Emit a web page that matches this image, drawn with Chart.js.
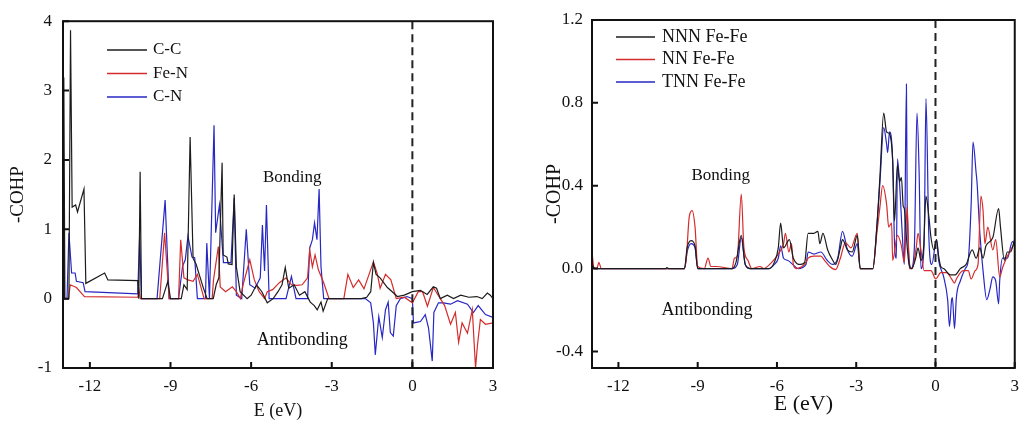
<!DOCTYPE html>
<html>
<head>
<meta charset="utf-8">
<script src="https://cdn.jsdelivr.net/npm/chart.js@4.4.0/dist/chart.umd.min.js"></script>
<style>
  html, body { margin: 0; padding: 0; background: #fff; }
  #wrap { position: relative; width: 1027px; height: 425px; }
  #leftChart { position: absolute; left: 0; top: 0; }
  #rightChart { position: absolute; left: 510px; top: 0; }
</style>
</head>
<body>
<div id="wrap">
  <canvas id="leftChart" width="510" height="425"></canvas>
  <canvas id="rightChart" width="517" height="425"></canvas>
</div>
<script>
// ******************************************************** DATA
var xTickVals   = [-12, -9, -6, -3, 0, 3];
var leftYTicks  = [-1, 0, 1, 2, 3, 4];
var rightYTicks = [-0.4, 0, 0.4, 0.8, 1.2];

var leftLabels  = ['C-C', 'Fe-N', 'C-N'];
var rightLabels = ['NNN Fe-Fe', 'NN Fe-Fe', 'TNN Fe-Fe'];
var lineColors  = ['#1c1c1c', '#d42c2c', '#2727c4'];

// left panel: C-C
var ccE = [-13.0,-12.97,-12.93,-12.78,-12.72,-12.66,-12.53,-12.46,-12.22,-12.15,-11.45,-11.33,-10.22,-10.18,-10.13,-10.08,
  -9.3,-9.1,-9.0,-8.6,-8.5,-8.38,-8.27,-8.16,-8.05,-7.79,-7.64,-7.41,-7.3,-7.2,-7.08,-7.04,-6.9,-6.85,-6.71,-6.63,-6.55,
  -6.41,-6.15,-6.0,-5.8,-5.6,-5.4,-5.18,-5.0,-4.85,-4.73,-4.6,-4.4,-4.2,-4.0,-3.8,-3.65,-3.54,-3.4,-3.32,-3.15,-2.98,
  -1.9,-1.7,-1.55,-1.45,-1.35,-1.2,-0.93,-0.75,-0.56,-0.3,0.0,0.3,0.55,0.78,0.9,1.04,1.3,1.53,1.8,2.1,2.4,2.6,2.79,2.9,3.0];
var ccY = [0,3.19,0,0,3.87,1.32,1.35,1.25,1.58,0.22,0.37,0.27,0.26,0,1.83,0,
  0,0.25,0,0,0.2,0.13,2.33,0.58,0.5,0.17,0,0,0.2,0.3,1.96,0.63,0.6,0.5,0.49,1.5,0.46,
  0.1,0,0.05,0.2,0.1,-0.06,0,0.1,0.2,0.45,0.15,0.2,0.05,0.1,-0.05,-0.1,-0.16,-0.05,-0.18,0,0,
  0,0.02,0.1,0.52,0.35,0.3,0.16,0.1,0.03,0.05,0.1,0.12,0.06,0.17,0.15,0,0.05,0,0.05,0.02,0.03,0,0.08,0.05,0];

// left panel: Fe-N
var fenE = [-13.0,-12.97,-12.8,-12.73,-12.5,-12.2,-10.22,-10.17,-10.12,-9.4,-9.22,-9.05,-8.7,-8.62,-8.5,-8.35,-8.16,-8.0,
  -7.75,-7.45,-7.4,-7.22,-7.15,-6.95,-6.7,-6.55,-6.4,-6.3,-6.05,-5.88,-5.7,-5.5,-5.4,-5.2,-4.95,-4.7,-4.5,-4.3,-4.1,-3.9,
  -3.82,-3.72,-3.62,-3.5,-3.3,-3.1,-2.55,-2.4,-2.2,-2.0,-1.8,-1.45,-1.3,-1.2,-1.0,-0.8,-0.6,-0.3,0.0,0.22,0.38,0.56,0.78,
  1.04,1.2,1.42,1.6,1.72,1.85,2.05,2.23,2.35,2.42,2.53,2.72,3.0];
var fenY = [0.65,0,0,0.2,0.16,0.03,0.02,0.12,0,0,0.95,0,0,0.85,0.3,0.27,0.25,0.35,
  0,0,0.27,0.75,0.17,0.1,0.17,0.1,0,0.2,0.56,0.27,0.1,0,0.1,0.13,0.23,0.3,0.2,0.19,0.2,0.3,
  0.7,0.46,0.63,0.42,0.23,0,0,0.35,0.16,0.27,0.14,0.53,0.35,0.15,0.35,0.27,0,0.02,-0.06,0.1,0.1,-0.11,0.16,
  0,-0.1,-0.37,-0.2,-0.63,-0.35,-0.5,-0.16,-1.0,-0.68,-0.3,-0.37,-0.35];

// left panel: C-N
var cnE = [-13.0,-12.97,-12.85,-12.78,-12.68,-12.55,-12.5,-12.25,-12.18,-10.22,-10.15,-10.08,-9.5,-9.2,-9.05,-8.7,-8.55,
  -8.45,-8.35,-8.2,-8.1,-8.0,-7.7,-7.65,-7.55,-7.38,-7.32,-7.18,-7.03,-6.75,-6.63,-6.55,-6.35,-6.18,-6.05,-5.85,-5.66,
  -5.58,-5.5,-5.43,-5.33,-4.7,-4.5,-4.33,-3.9,-3.82,-3.72,-3.64,-3.55,-3.47,-3.4,-3.3,-1.75,-1.55,-1.45,-1.38,-1.25,
  -1.12,-1.0,-0.9,-0.82,-0.71,-0.6,-0.45,-0.2,0.0,0.04,0.3,0.48,0.6,0.74,0.8,0.97,1.15,1.42,1.68,2.05,2.27,2.45,2.72,3.0];
var cnY = [1.15,0,0,0.95,0.37,0.37,0.25,0.23,0.1,0.07,0.9,0,0,1.42,0,0,0.47,
  0.56,0.9,0.6,0.59,0,0,0.8,0,2.5,0.95,1.35,0.52,0.52,1.45,0.05,0,1.0,0.2,0.15,0.3,
  1.06,0.4,1.35,0,0,0.32,0,0,0.73,0.85,1.09,0.85,1.58,0.46,0,0,-0.06,-0.35,-0.81,-0.26,
  -0.56,-0.16,-0.05,-0.49,-0.54,-0.1,0,0.03,0,-0.35,-0.33,-0.23,-0.42,-0.9,-0.2,-0.06,-0.06,-0.08,-0.03,-0.08,-0.2,-0.1,-0.23,-0.27];

// right panel: NNN Fe-Fe
var nnnE = [-13.0,-12.9,-10.2,-10.17,-10.1,-9.5,-9.4,-9.25,-9.1,-9.0,-7.7,-7.55,-7.35,-7.2,-7.0,-6.3,-6.1,-5.95,-5.86,
  -5.75,-5.53,-5.38,-5.1,-4.95,-4.82,-4.6,-4.45,-4.38,-4.26,-4.08,-3.89,-3.78,-3.6,-3.52,-3.33,-3.15,-2.96,-2.85,-2.37,
  -2.22,-2.1,-1.96,-1.85,-1.74,-1.62,-1.55,-1.44,-1.36,-1.29,-1.22,-1.18,-1.1,-1.0,-0.9,-0.75,-0.66,-0.55,-0.45,-0.36,
  -0.25,-0.17,-0.06,0.04,0.12,0.2,0.31,0.57,0.75,0.94,1.16,1.39,1.54,1.68,1.8,1.91,2.17,2.39,2.46,2.61,2.72,2.84,2.99];
var nnnY = [0.02,0,0,0.005,0,0,0.1,0.135,0.11,0,0,0.03,0.16,0.02,0,0,0.03,0.1,0.22,
  0.1,0.14,0.05,0.02,0.03,0.17,0.17,0.18,0.12,0.17,0.09,0.04,0.02,0.1,0.14,0.09,0.08,0.16,0,0,
  0.2,0.45,0.75,0.66,0.65,0.52,0.23,0.5,0.42,0.44,0.3,0.29,0.15,0.02,0,0.05,0.1,0.04,0.1,0.35,
  0.25,0.15,0.09,0.14,0.06,0.01,0,-0.03,-0.03,0,0.02,0.09,0.05,0.1,0.05,0.11,0.15,0.29,0.2,0.04,0.08,0.08,0.14];

// right panel: NN Fe-Fe
var nnE = [-13.0,-12.92,-12.8,-12.74,-12.65,-10.2,-9.5,-9.43,-9.32,-9.21,-9.1,-9.0,-8.75,-8.61,-8.5,-8.3,-7.7,-7.61,
  -7.5,-7.35,-7.25,-7.1,-6.95,-6.64,-6.5,-6.2,-5.95,-5.75,-5.68,-5.55,-5.45,-5.38,-5.27,-4.9,-4.82,-4.6,-4.34,-4.2,-4.0,
  -3.78,-3.6,-3.41,-3.2,-2.96,-2.85,-2.37,-2.22,-2.1,-2.0,-1.85,-1.77,-1.66,-1.62,-1.44,-1.29,-1.18,-1.07,-0.99,-0.88,
  -0.73,-0.66,-0.55,-0.43,-0.17,0.01,0.2,0.42,0.61,0.72,0.79,1.05,1.24,1.35,1.5,1.61,1.72,1.8,1.87,1.98,2.17,2.28,2.43,
  2.54,2.65,2.84,2.99];
var nnY = [0.08,0,0.005,0.03,0,0,0,0.05,0.25,0.28,0.2,0.01,0,0.05,0.01,0.01,0,0.05,
  0.06,0.36,0.1,0.04,0,0.01,0,0.03,0.07,0.12,0.17,0.08,0.12,0.02,0,0.03,0.05,0.06,0.06,0.04,0.01,
  -0.005,0.05,0.125,0.1,0.17,0,0,0.17,0.3,0.4,0.31,0.2,0.22,0.04,0.16,0.11,0.03,0.3,0,0,
  0.1,0.17,0.09,-0.01,-0.01,-0.05,-0.02,-0.02,-0.05,-0.07,-0.05,-0.01,-0.01,-0.05,-0.01,0.02,0.35,0.28,0.12,0.2,0.09,0.14,-0.04,
  0.005,0.04,0.09,0.12];

// right panel: TNN Fe-Fe
var tnnE = [-13.0,-12.9,-10.2,-9.5,-9.4,-9.25,-9.1,-9.0,-7.7,-7.5,-7.35,-7.2,-7.0,-6.3,-6.1,-5.95,-5.86,-5.75,-5.6,-5.4,
  -5.2,-4.9,-4.82,-4.6,-4.34,-4.1,-3.89,-3.7,-3.52,-3.33,-3.15,-2.96,-2.85,-2.37,-2.22,-2.1,-1.96,-1.85,-1.81,-1.74,-1.62,
  -1.55,-1.48,-1.44,-1.36,-1.25,-1.18,-1.1,-1.07,-0.92,-0.8,-0.7,-0.62,-0.55,-0.43,-0.36,-0.25,-0.14,0.04,0.12,0.31,0.46,
  0.53,0.61,0.64,0.72,0.79,0.94,1.13,1.24,1.35,1.42,1.54,1.57,1.68,1.8,1.94,2.06,2.17,2.28,2.39,2.43,2.54,2.72,2.91,2.99];
var tnnY = [0.02,0,0,0,0.08,0.12,0.1,0,0,0.02,0.15,0.02,0,0,0.02,0.05,0.11,0.05,0.04,0.02,
  0,0.02,0.08,0.07,0.08,0.04,0.02,0.05,0.18,0.09,0.06,0.12,0,0,0.2,0.42,0.68,0.6,0.56,0.66,0.52,
  0.12,0.05,0.53,0.41,0.15,0.02,0.89,0.3,0,0.1,0.75,0.47,0,0.12,0.82,0.15,0.02,0.14,0.04,-0.04,-0.15,
  -0.28,-0.15,-0.14,-0.29,-0.14,-0.06,0,0.04,0.31,0.61,0.46,0.42,0.17,-0.01,-0.15,-0.1,-0.04,-0.06,-0.17,-0.06,0.05,0.05,0.13,0.12];

// ******************************************************** HELPERS
var SERIF = "'Liberation Serif', 'Times New Roman', serif";

function pts(es, ys) { return es.map(function (e, i) { return { x: e, y: ys[i] }; }); }

// frame, inward ticks, dashed Fermi line, legend and notes
var decor = {
  id: 'decor',
  afterDatasetsDraw: function (chart, args, o) {
    var ctx = chart.ctx, a = chart.chartArea, xs = chart.scales.x, ys = chart.scales.y;
    ctx.save();
    // E = 0 dashed line
    var x0 = xs.getPixelForValue(0);
    ctx.strokeStyle = '#222'; ctx.lineWidth = 2; ctx.setLineDash([8, 5]);
    ctx.beginPath(); ctx.moveTo(x0, a.top); ctx.lineTo(x0, a.bottom); ctx.stroke();
    ctx.setLineDash([]);
    // frame
    ctx.strokeStyle = '#111'; ctx.lineWidth = 2;
    ctx.strokeRect(a.left, a.top, a.right - a.left, a.bottom - a.top);
    ctx.beginPath();
    xs.ticks.forEach(function (t) {
      var p = xs.getPixelForValue(t.value);
      ctx.moveTo(p, a.bottom); ctx.lineTo(p, a.bottom - 6);
    });
    ys.ticks.forEach(function (t) {
      var p = ys.getPixelForValue(t.value);
      ctx.moveTo(a.left, p); ctx.lineTo(a.left + 6, p);
    });
    ctx.stroke();
    // legend
    var lg = o.legend;
    ctx.font = lg.size + 'px ' + SERIF; ctx.textBaseline = 'middle'; ctx.textAlign = 'left';
    chart.data.datasets.forEach(function (ds, i) {
      var yy = lg.y + i * lg.dy;
      ctx.strokeStyle = ds.borderColor; ctx.lineWidth = 1.5;
      ctx.beginPath(); ctx.moveTo(lg.x1, yy); ctx.lineTo(lg.x2, yy); ctx.stroke();
      ctx.fillStyle = '#111'; ctx.fillText(ds.label, lg.tx, yy);
    });
    // bonding / antibonding notes
    ctx.textAlign = 'center';
    o.notes.forEach(function (n) {
      ctx.font = n.size + 'px ' + SERIF;
      ctx.fillText(n.text, xs.getPixelForValue(n.x), ys.getPixelForValue(n.y));
    });
    ctx.restore();
  }
};

function makeChart(id, c) {
  var datasets = c.series.map(function (s, i) {
    return {
      label: c.labels[i],
      data: pts(s[0], s[1]),
      borderColor: lineColors[i],
      borderWidth: 1.2,
      pointRadius: 0,
      tension: c.smooth ? 0.4 : 0,
      cubicInterpolationMode: c.smooth ? 'monotone' : 'default'
    };
  });
  return new Chart(document.getElementById(id).getContext('2d'), {
    type: 'line',
    data: { datasets: datasets },
    options: {
      responsive: false,
      animation: false,
      events: [],
      layout: { padding: { top: 20, right: c.padRight, left: 0, bottom: 0 } },
      plugins: {
        legend: { display: false },
        tooltip: { enabled: false },
        decor: { legend: c.legend, notes: c.notes }
      },
      scales: {
        x: {
          type: 'linear', min: -13, max: 3,
          afterBuildTicks: function (s) { s.ticks = xTickVals.map(function (v) { return { value: v }; }); },
          afterFit: function (s) { s.height = 57; },
          grid: { display: false, drawTicks: false },
          border: { display: false },
          ticks: { color: '#111', padding: 8, maxRotation: 0, font: { family: SERIF, size: 17 } },
          title: { display: true, text: 'E (eV)', color: '#111',
                   font: { family: SERIF, size: c.xTitleSize, lineHeight: 1 }, padding: { top: 0, bottom: c.xTitlePad } }
        },
        y: {
          min: c.yMin, max: c.yMax,
          afterBuildTicks: function (s) { s.ticks = c.yTicks.map(function (v) { return { value: v }; }); },
          afterFit: function (s) { s.width = c.yAxisWidth; },
          grid: { display: false, drawTicks: false },
          border: { display: false },
          ticks: { color: '#111', padding: c.yTickPad, font: { family: SERIF, size: 17 },
                   callback: function (v) { return c.yFmt(v); } },
          title: { display: true, text: '-COHP', color: '#111',
                   font: { family: SERIF, size: c.yTitleSize, lineHeight: 1 }, padding: { top: c.yTitlePad, bottom: 0 } }
        }
      }
    },
    plugins: [decor]
  });
}

// ******************************************************** CHARTS
window.leftChart = makeChart('leftChart', {
  labels: leftLabels,
  series: [[ccE, ccY], [fenE, fenY], [cnE, cnY]],
  smooth: false,
  yMin: -1, yMax: 4, yTicks: leftYTicks,
  yFmt: function (v) { return String(v); },
  padRight: 17, yAxisWidth: 63, yTickPad: 11,
  yTitleSize: 19, yTitlePad: 9, xTitleSize: 18, xTitlePad: 5,
  legend: { x1: 107, x2: 147, tx: 153, y: 50, dy: 23.5, size: 17 },
  notes: [{ text: 'Bonding', x: -4.47, y: 1.74, size: 17 },
          { text: 'Antibonding', x: -4.1, y: -0.6, size: 18 }]
});

window.rightChart = makeChart('rightChart', {
  labels: rightLabels,
  series: [[nnnE, nnnY], [nnE, nnY], [tnnE, tnnY]],
  smooth: true,
  yMin: -0.48, yMax: 1.2, yTicks: rightYTicks,
  yFmt: function (v) { return v.toFixed(1); },
  padRight: 4, yAxisWidth: 82, yTickPad: 9,
  yTitleSize: 20, yTitlePad: 35, xTitleSize: 22, xTitlePad: 10,
  legend: { x1: 106, x2: 145, tx: 152, y: 37, dy: 22.5, size: 18 },
  notes: [{ text: 'Bonding', x: -8.13, y: 0.45, size: 17 },
          { text: 'Antibonding', x: -8.65, y: -0.2, size: 18 }]
});
</script>
</body>
</html>
